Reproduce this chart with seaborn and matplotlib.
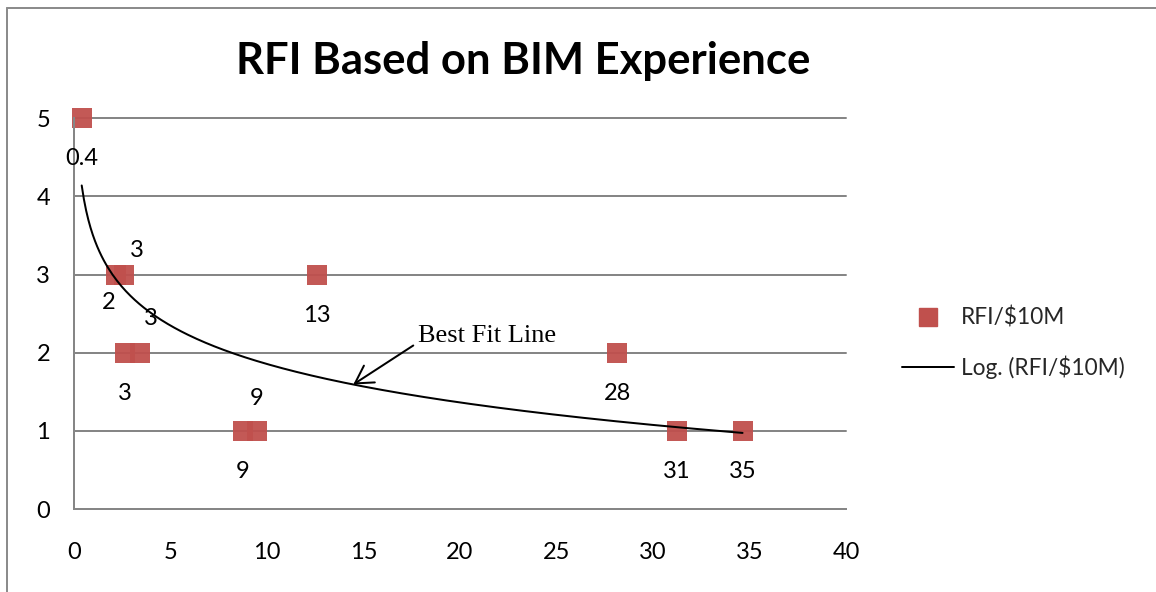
import numpy as np
import pandas as pd
import matplotlib
matplotlib.use("Agg")
import matplotlib.pyplot as plt
from matplotlib.lines import Line2D
import seaborn as sns

# Years of BIM experience and RFIs per $10M of construction
experience_years = [0.4, 2.16, 2.59, 2.63, 3.41, 8.76, 9.46, 12.58, 28.16, 31.23, 34.64]
rfi_per_10m = [5, 3, 3, 2, 2, 1, 1, 3, 2, 1, 1]

x_ticks = [0, 5, 10, 15, 20, 25, 30, 35, 40]
y_ticks = [0, 1, 2, 3, 4, 5]

title = "RFI Based on BIM Experience"
series_name = "RFI/$10M"
trend_name = "Log. (RFI/$10M)"
callout = "Best Fit Line"

RED = "#C0504D"
GRID = "#868686"
PX = 72 / 100  # points per pixel at dpi 100

sns.set_theme(style="white")
plt.rcParams["font.family"] = ["Lato", "DejaVu Sans"]

df = pd.DataFrame({"years": experience_years, "rfi": rfi_per_10m})

# logarithmic trend line y = a*ln(x) + b fitted to the points
a, b = np.polyfit(np.log(df["years"]), df["rfi"], 1)
xs = np.linspace(df["years"].min(), df["years"].max(), 300)
trend = pd.DataFrame({"years": xs, "rfi": a * np.log(xs) + b})

fig = plt.figure(figsize=(11.56, 5.92), dpi=100)
ax = fig.add_axes([74 / 1156, 83 / 592, 772 / 1156, 390.7 / 592])

ax.set_xlim(0, 40)
ax.set_ylim(0, 5)
ax.set_xticks(x_ticks)
ax.set_yticks(y_ticks)
ax.set_xticklabels([str(t) for t in x_ticks])
ax.set_yticklabels([str(t) for t in y_ticks])

# horizontal gridlines
for t in y_ticks[1:]:
    ax.axhline(t, color=GRID, lw=2 * PX, zorder=0, clip_on=False)

sns.lineplot(data=trend, x="years", y="rfi", ax=ax, color="black",
             lw=2 * PX, zorder=3, clip_on=False)
sns.scatterplot(data=df, x="years", y="rfi", ax=ax, marker="s", s=(20 * PX) ** 2,
                color=RED, linewidth=0, alpha=0.95, zorder=2, clip_on=False)

ax.set_xlabel("")
ax.set_ylabel("")
for side in ["top", "right"]:
    ax.spines[side].set_visible(False)
for side in ["left", "bottom"]:
    ax.spines[side].set_color(GRID)
    ax.spines[side].set_linewidth(2 * PX)

ax.tick_params(axis="both", direction="out", color=GRID, width=2 * PX,
               length=8 * PX, labelsize=17, labelcolor="black")
ax.tick_params(axis="y", pad=11.5)
ax.tick_params(axis="x", pad=18)

# data labels (rounded experience years) with pixel offsets of the baseline
default_off = (0, -47)
custom_off = {1: (-7, -34), 2: (13, 18), 4: (11, 28), 6: (0, 26)}
for i, (xv, yv) in enumerate(zip(df["years"], df["rfi"])):
    label = f"{xv:g}" if xv < 1 else f"{xv:.0f}"
    off = custom_off.get(i, default_off)
    ax.annotate(label, xy=(xv, yv), xytext=off, textcoords="offset pixels",
                ha="center", va="baseline", fontsize=17, color="black",
                annotation_clip=False)

# callout pointing at the trend line
tip_x = 14.47
tip_y = a * np.log(tip_x) + b
ax.annotate("", xy=(tip_x, tip_y), xytext=(60, 39), textcoords="offset pixels",
            arrowprops=dict(arrowstyle="->, head_length=0.62, head_width=0.36",
                            color="black", lw=2 * PX, shrinkA=0, shrinkB=0,
                            mutation_scale=20))
ax.annotate(callout, xy=(tip_x, tip_y), xytext=(65, 42), textcoords="offset pixels",
            ha="left", va="baseline", fontsize=19, color="black",
            family=["Liberation Serif", "DejaVu Serif"])

# title
fig.text(523.5 / 1156, 1 - 74 / 592, title, ha="center", va="baseline",
         fontsize=31.4, fontweight="bold", color="black")

# legend
handles = [
    Line2D([], [], marker="s", color=RED, linestyle="none", markersize=18 * PX),
    Line2D([], [], color="black", lw=2 * PX),
]
fig.legend(handles, [series_name, trend_name], loc="center left",
           bbox_to_anchor=(901.7 / 1156, 1 - 343 / 592), frameon=False,
           fontsize=16.3, handlelength=2.3, handletextpad=0.3,
           labelspacing=1.2, borderpad=0, borderaxespad=0)

# chart area border (left and top edges)
border_x = 7 / 1156
border_y = 1 - 8 / 592
fig.add_artist(Line2D([border_x, border_x], [0, border_y], transform=fig.transFigure,
                      color="#8c8c8c", lw=2 * PX))
fig.add_artist(Line2D([border_x, 1], [border_y, border_y], transform=fig.transFigure,
                      color="#8c8c8c", lw=2 * PX))

fig.savefig("out.png", dpi=100)
